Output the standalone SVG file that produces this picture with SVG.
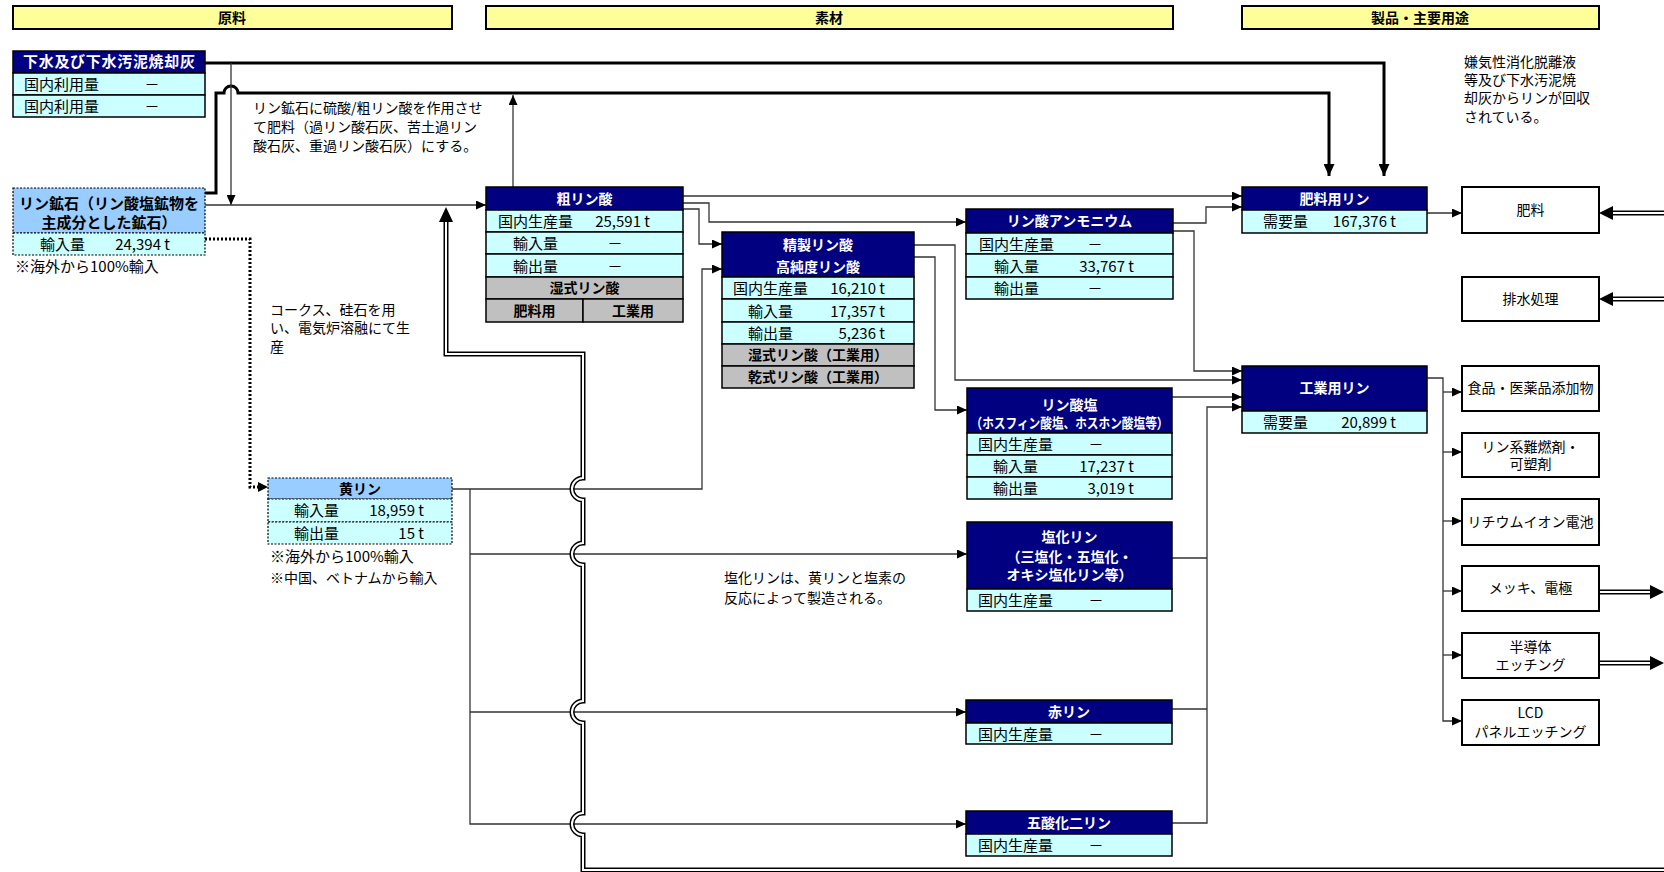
<svg xmlns="http://www.w3.org/2000/svg" width="1664" height="872" viewBox="0 0 1664 872">
<style>
text{font-family:"Noto Sans CJK JP","Noto Sans",sans-serif;font-size:15px;fill:#000}
.bar{fill:#FFFF99;stroke:#000;stroke-width:2}
.bt{font-weight:bold;text-anchor:middle;font-size:14px}
.hd{fill:#000080;stroke:#000;stroke-width:1.5}
.rw{fill:#CCFFFF;stroke:#000;stroke-width:1.5}
.gr{fill:#C0C0C0;stroke:#000;stroke-width:1.5}
.lb{fill:#99CCFF;stroke:#000;stroke-width:1.2;stroke-dasharray:2 1.5}
.lr{fill:#CCFFFF;stroke:#000;stroke-width:1.2;stroke-dasharray:2 1.5}
.bx{fill:#fff;stroke:#000;stroke-width:2}
.ht{fill:#fff;font-weight:bold;text-anchor:middle;font-size:14px}
.gt{font-weight:bold;text-anchor:middle;font-size:14px}
.e{text-anchor:end}
.m{text-anchor:middle}
.n{font-size:14px}
.bn{font-size:14px;text-anchor:middle}
.c{fill:none;stroke:#333;stroke-width:1.3}
.k{fill:none;stroke:#000;stroke-width:3}
.dd{fill:none;stroke:#000;stroke-width:3;stroke-dasharray:2 2}
.d1{fill:none;stroke:#000;stroke-width:5}
.d2{fill:none;stroke:#fff;stroke-width:2}
</style>
<defs>
<marker id="a" markerUnits="userSpaceOnUse" markerWidth="10" markerHeight="9" refX="10" refY="4.5" orient="auto"><path d="M0,0 L10,4.5 L0,9 z" fill="#000"/></marker>
<marker id="ab" markerUnits="userSpaceOnUse" markerWidth="12" markerHeight="11" refX="12" refY="5.5" orient="auto"><path d="M0,0 L12,5.5 L0,11 z" fill="#000"/></marker>
</defs>

<g id="headers">
<rect class="bar" x="13" y="6" width="439" height="23"/><text class="bt" x="232" y="23">原料</text>
<rect class="bar" x="486" y="6" width="687" height="23"/><text class="bt" x="829" y="23">素材</text>
<rect class="bar" x="1242" y="6" width="357" height="23"/><text class="bt" x="1420" y="23">製品・主要用途</text>
</g>

<g id="connectors">
<path class="k" d="M205,63 H1384 V176" marker-end="url(#ab)"/>
<path class="k" d="M205,193 H216 V93 H224 A7,7 0 0 1 238,93 H1329 V176" marker-end="url(#ab)"/>
<path class="c" d="M231,63 V205" marker-end="url(#a)"/>
<path class="c" d="M205,205 H486" marker-end="url(#a)"/>
<path class="c" d="M513,187 V95" marker-end="url(#a)"/>
<path class="dd" d="M205,239 H250 V487 H258"/>
<path d="M258,482 L268,487 L258,492 z" fill="#000"/>
<path class="c" d="M683,196 H1242" marker-end="url(#a)"/>
<path class="c" d="M683,203 H709 V222 H966" marker-end="url(#a)"/>
<path class="c" d="M683,209 H699 V244 H722" marker-end="url(#a)"/>
<path class="c" d="M452,489 H702 V269 H722" marker-end="url(#a)"/>
<path class="c" d="M914,245 H955 V380 H1242" marker-end="url(#a)"/>
<path class="c" d="M914,257 H935 V410 H967" marker-end="url(#a)"/>
<path class="c" d="M1173,223 H1206 V207 H1242" marker-end="url(#a)"/>
<path class="c" d="M1173,231 H1194 V371 H1242" marker-end="url(#a)"/>
<path class="c" d="M1172,397 H1242" marker-end="url(#a)"/>
<path class="c" d="M1172,558 H1207 M1172,709 H1207"/>
<path class="c" d="M1172,823 H1207 V407 H1242" marker-end="url(#a)"/>
<path class="c" d="M470,489 V824 H966" marker-end="url(#a)"/>
<path class="c" d="M470,554 H967" marker-end="url(#a)"/>
<path class="c" d="M470,712 H966" marker-end="url(#a)"/>
<path class="c" d="M1427,213 H1462" marker-end="url(#a)"/>
<path class="c" d="M1427,378 H1443 V721 H1462" marker-end="url(#a)"/>
<path class="c" d="M1443,392 H1462" marker-end="url(#a)"/>
<path class="c" d="M1443,452 H1462" marker-end="url(#a)"/>
<path class="c" d="M1443,521 H1462" marker-end="url(#a)"/>
<path class="c" d="M1443,591 H1462" marker-end="url(#a)"/>
<path class="c" d="M1443,655 H1462" marker-end="url(#a)"/>
<path class="d1" d="M1664,870 H583 V835 A11,11 0 0 1 583,813 V723 A11,11 0 0 1 583,701 V565 A11,11 0 0 1 583,543 V500 A11,11 0 0 1 583,478 V354 H446 V221"/>
<path class="d2" d="M1664,870 H583 V835 A11,11 0 0 1 583,813 V723 A11,11 0 0 1 583,701 V565 A11,11 0 0 1 583,543 V500 A11,11 0 0 1 583,478 V354 H446 V221"/>
<path d="M439,222 L453,222 L446,207 z" fill="#000"/>
<path class="d1" d="M1664,213 H1612"/><path class="d2" d="M1664,213 H1612"/><path d="M1613,206 L1613,220 L1599,213 z" fill="#000"/>
<path class="d1" d="M1664,299 H1612"/><path class="d2" d="M1664,299 H1612"/><path d="M1613,292 L1613,306 L1599,299 z" fill="#000"/>
<path class="d1" d="M1599,592 H1651"/><path class="d2" d="M1599,592 H1651"/><path d="M1650,585 L1650,599 L1664,592 z" fill="#000"/>
<path class="d1" d="M1599,663 H1651"/><path class="d2" d="M1599,663 H1651"/><path d="M1650,656 L1650,670 L1664,663 z" fill="#000"/>
</g>

<g id="n-sewage">
<rect class="hd" x="13" y="51" width="192" height="22"/>
<text class="ht" x="109" y="67" style="font-size:15px" textLength="172" lengthAdjust="spacing">下水及び下水汚泥焼却灰</text>
<rect class="rw" x="13" y="73" width="192" height="22"/>
<text x="24" y="90">国内利用量</text><text class="m" x="152" y="90">－</text>
<rect class="rw" x="13" y="95" width="192" height="22"/>
<text x="24" y="112">国内利用量</text><text class="m" x="152" y="112">－</text>
</g>

<g id="n-ore">
<rect class="lb" x="13" y="188" width="192" height="45"/>
<text class="gt" x="109" y="209" style="font-size:15px">リン鉱石（リン酸塩鉱物を</text>
<text class="gt" x="109" y="228" style="font-size:15px">主成分とした鉱石）</text>
<rect class="lr" x="13" y="233" width="192" height="22"/>
<text x="40" y="250">輸入量</text><text class="e" x="170" y="250">24,394 t</text>
<text x="15" y="272">※海外から100%輸入</text>
</g>

<g id="n-crude">
<rect class="hd" x="486" y="187" width="197" height="23"/>
<text class="ht" x="584.5" y="204">粗リン酸</text>
<rect class="rw" x="486" y="210" width="197" height="22"/>
<text x="498" y="227">国内生産量</text><text class="e" x="650" y="227">25,591 t</text>
<rect class="rw" x="486" y="232" width="197" height="22"/>
<text x="513" y="249">輸入量</text><text class="m" x="615" y="249">－</text>
<rect class="rw" x="486" y="254" width="197" height="23"/>
<text x="513" y="272">輸出量</text><text class="m" x="615" y="272">－</text>
<rect class="gr" x="486" y="277" width="197" height="22"/>
<text class="gt" x="584.5" y="293">湿式リン酸</text>
<rect class="gr" x="486" y="299" width="97" height="23"/>
<rect class="gr" x="583" y="299" width="100" height="23"/>
<text class="gt" x="534.5" y="316">肥料用</text>
<text class="gt" x="633" y="316">工業用</text>
</g>

<g id="n-refined">
<rect class="hd" x="722" y="232" width="192" height="45"/>
<text class="ht" x="818" y="250">精製リン酸</text>
<text class="ht" x="818" y="272">高純度リン酸</text>
<rect class="rw" x="722" y="277" width="192" height="22"/>
<text x="733" y="294">国内生産量</text><text class="e" x="885" y="294">16,210 t</text>
<rect class="rw" x="722" y="299" width="192" height="23"/>
<text x="748" y="317">輸入量</text><text class="e" x="885" y="317">17,357 t</text>
<rect class="rw" x="722" y="322" width="192" height="22"/>
<text x="748" y="339">輸出量</text><text class="e" x="885" y="339">5,236 t</text>
<rect class="gr" x="722" y="344" width="192" height="22"/>
<text class="gt" x="818" y="360">湿式リン酸（工業用）</text>
<rect class="gr" x="722" y="366" width="192" height="22"/>
<text class="gt" x="818" y="382">乾式リン酸（工業用）</text>
</g>

<g id="n-ammonium">
<rect class="hd" x="966" y="209" width="207" height="24"/>
<text class="ht" x="1069.5" y="226">リン酸アンモニウム</text>
<rect class="rw" x="966" y="233" width="207" height="21"/>
<text x="979" y="250">国内生産量</text><text class="m" x="1095" y="250">－</text>
<rect class="rw" x="966" y="254" width="207" height="23"/>
<text x="994" y="272">輸入量</text><text class="e" x="1134" y="272">33,767 t</text>
<rect class="rw" x="966" y="277" width="207" height="22"/>
<text x="994" y="294">輸出量</text><text class="m" x="1095" y="294">－</text>
</g>

<g id="n-phosphate">
<rect class="hd" x="967" y="388" width="205" height="45"/>
<text class="ht" x="1069.5" y="410">リン酸塩</text>
<text class="ht" x="1069.5" y="428" textLength="198" lengthAdjust="spacingAndGlyphs">（ホスフィン酸塩、ホスホン酸塩等）</text>
<rect class="rw" x="967" y="433" width="205" height="22"/>
<text x="978" y="450">国内生産量</text><text class="m" x="1096" y="450">－</text>
<rect class="rw" x="967" y="455" width="205" height="22"/>
<text x="993" y="472">輸入量</text><text class="e" x="1134" y="472">17,237 t</text>
<rect class="rw" x="967" y="477" width="205" height="22"/>
<text x="993" y="494">輸出量</text><text class="e" x="1134" y="494">3,019 t</text>
</g>

<g id="n-chloride">
<rect class="hd" x="967" y="522" width="205" height="67"/>
<text class="ht" x="1069.5" y="542">塩化リン</text>
<text class="ht" x="1069.5" y="562">（三塩化・五塩化・</text>
<text class="ht" x="1069.5" y="580">オキシ塩化リン等）</text>
<rect class="rw" x="967" y="589" width="205" height="22"/>
<text x="978" y="606">国内生産量</text><text class="m" x="1096" y="606">－</text>
</g>

<g id="n-red">
<rect class="hd" x="966" y="700" width="206" height="23"/>
<text class="ht" x="1069" y="717">赤リン</text>
<rect class="rw" x="966" y="723" width="206" height="21"/>
<text x="978" y="740">国内生産量</text><text class="m" x="1096" y="740">－</text>
</g>

<g id="n-p2o5">
<rect class="hd" x="966" y="811" width="206" height="23"/>
<text class="ht" x="1069" y="828">五酸化二リン</text>
<rect class="rw" x="966" y="834" width="206" height="22"/>
<text x="978" y="851">国内生産量</text><text class="m" x="1096" y="851">－</text>
</g>

<g id="n-yellow">
<rect class="lb" x="268" y="478" width="184" height="21"/>
<text class="gt" x="360" y="494">黄リン</text>
<rect class="lr" x="268" y="499" width="184" height="23"/>
<text x="294" y="516">輸入量</text><text class="e" x="424" y="516">18,959 t</text>
<rect class="lr" x="268" y="522" width="184" height="22"/>
<text x="294" y="539">輸出量</text><text class="e" x="424" y="539">15 t</text>
<text x="270" y="562">※海外から100%輸入</text>
<text class="n" x="270" y="583">※中国、ベトナムから輸入</text>
</g>

<g id="n-fert-p">
<rect class="hd" x="1242" y="187" width="185" height="23"/>
<text class="ht" x="1334.5" y="204">肥料用リン</text>
<rect class="rw" x="1242" y="210" width="185" height="23"/>
<text x="1263" y="227">需要量</text><text class="e" x="1396" y="227">167,376 t</text>
</g>

<g id="n-ind-p">
<rect class="hd" x="1242" y="366" width="185" height="45"/>
<text class="ht" x="1334.5" y="393">工業用リン</text>
<rect class="rw" x="1242" y="411" width="185" height="22"/>
<text x="1263" y="428">需要量</text><text class="e" x="1396" y="428">20,899 t</text>
</g>

<g id="n-fertilizer"><rect class="bx" x="1462" y="187" width="137" height="46"/><text class="bn" x="1530.5" y="215">肥料</text></g>
<g id="n-wastewater"><rect class="bx" x="1462" y="277" width="137" height="44"/><text class="bn" x="1530.5" y="304">排水処理</text></g>
<g id="n-food"><rect class="bx" x="1462" y="366" width="137" height="45"/><text class="bn" x="1530.5" y="393">食品・医薬品添加物</text></g>
<g id="n-flame"><rect class="bx" x="1462" y="433" width="137" height="44"/><text class="bn" x="1530.5" y="452">リン系難燃剤・</text><text class="bn" x="1530.5" y="469">可塑剤</text></g>
<g id="n-liion"><rect class="bx" x="1462" y="499" width="137" height="46"/><text class="bn" x="1530.5" y="527">リチウムイオン電池</text></g>
<g id="n-plating"><rect class="bx" x="1462" y="566" width="137" height="45"/><text class="bn" x="1530.5" y="593">メッキ、電極</text></g>
<g id="n-semi"><rect class="bx" x="1462" y="633" width="137" height="45"/><text class="bn" x="1530.5" y="652">半導体</text><text class="bn" x="1530.5" y="670">エッチング</text></g>
<g id="n-lcd"><rect class="bx" x="1462" y="700" width="137" height="45"/><text class="bn" x="1530.5" y="718">LCD</text><text class="bn" x="1530.5" y="737">パネルエッチング</text></g>

<g id="notes">
<text class="n" x="253" y="113">リン鉱石に硫酸/粗リン酸を作用させ</text>
<text class="n" x="253" y="132">て肥料（過リン酸石灰、苦土過リン</text>
<text class="n" x="253" y="151">酸石灰、重過リン酸石灰）にする。</text>
<text class="n" x="270" y="315">コークス、硅石を用</text>
<text class="n" x="270" y="333">い、電気炉溶融にて生</text>
<text class="n" x="270" y="352">産</text>
<text class="n" x="724" y="583">塩化リンは、黄リンと塩素の</text>
<text class="n" x="724" y="603">反応によって製造される。</text>
<text class="n" x="1464" y="67">嫌気性消化脱離液</text>
<text class="n" x="1464" y="85">等及び下水汚泥焼</text>
<text class="n" x="1464" y="103">却灰からリンが回収</text>
<text class="n" x="1464" y="122">されている。</text>
</g>
</svg>
